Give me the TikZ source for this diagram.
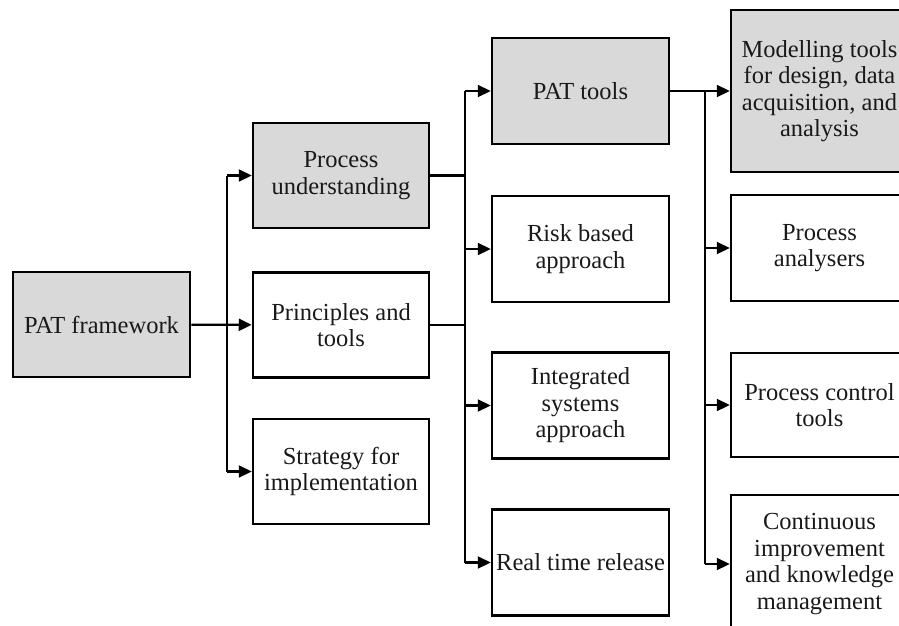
\documentclass[tikz,border=0pt]{standalone}
\usepackage{fontspec}
\setmainfont{Liberation Serif}
\usetikzlibrary{arrows.meta}
\definecolor{boxgray}{RGB}{217,217,217}
\begin{document}
\begin{tikzpicture}[x=1pt,y=-1pt,
  every node/.style={font=\fontsize{24.5}{26.5}\selectfont, align=center, inner sep=0pt, text=black!90},
  stepbox/.style={draw, line width=2.5pt, minimum width=176pt, minimum height=105pt},
  graybox/.style={stepbox, fill=boxgray},
  conn/.style={line width=2.2pt},
  arr/.style={conn, -{Triangle[length=13pt,width=12pt]}}]
\clip (0,0) rectangle (899,626);
% column 0
\node[graybox, minimum width=177pt] (fw) at (101.5,324.5) {PAT framework};
% column 1
\node[graybox] (pu) at (341,175.5) {Process\\understanding};
\node[stepbox] (pt) at (341,325) {Principles and\\tools};
\node[stepbox] (si) at (341,471.5) {Strategy for\\implementation};
% column 2
\node[graybox, minimum width=177pt, minimum height=106pt] (pat) at (580.5,91) {PAT tools};
\node[stepbox, minimum width=177pt, minimum height=106pt] (risk) at (580.5,249) {Risk based\\approach};
\node[stepbox, minimum width=177pt, minimum height=106pt] (isa) at (580.5,405.5) {Integrated\\systems\\approach};
\node[stepbox, minimum width=177pt, minimum height=106pt] (rtr) at (580.5,562.5) {Real time release};
% column 3
\node[graybox, minimum width=177pt, minimum height=162pt] (mod) at (819.5,91) {Modelling tools\\for design, data\\acquisition, and\\analysis};
\node[stepbox, minimum width=177pt, minimum height=106pt] (pa) at (819.5,248) {Process\\analysers};
\node[stepbox, minimum width=177pt, minimum height=104pt] (pc) at (819.5,405) {Process control\\tools};
\node[stepbox, minimum width=177pt, minimum height=138pt] (ci) at (819.5,564) {Continuous\\improvement\\and knowledge\\management};
% trunks
\coordinate (t1) at (227,0);
\coordinate (t2) at (465,0);
\coordinate (t3) at (705,0);
% column 0 -> column 1
\draw[arr] (fw) -- (pt);
\draw[conn] (t1 |- pu.west) -- (t1 |- si.west);
\draw[arr] (t1 |- pu.west) -- (pu.west);
\draw[arr] (t1 |- si.west) -- (si.west);
% column 1 -> column 2
\draw[conn] (pu.east) -- (t2 |- pu.east);
\draw[conn] (pt.east) -- (t2 |- pt.east);
\draw[conn] (t2 |- pat.west) -- (t2 |- rtr.west);
\draw[arr] (t2 |- pat.west) -- (pat.west);
\draw[arr] (t2 |- risk.west) -- (risk.west);
\draw[arr] (t2 |- isa.west) -- (isa.west);
\draw[arr] (t2 |- rtr.west) -- (rtr.west);
% column 2 -> column 3
\draw[arr] (pat) -- (mod);
\draw[conn] (t3 |- pat.east) -- (t3 |- ci.west);
\draw[arr] (t3 |- pa.west) -- (pa.west);
\draw[arr] (t3 |- pc.west) -- (pc.west);
\draw[arr] (t3 |- ci.west) -- (ci.west);
\end{tikzpicture}
\end{document}
